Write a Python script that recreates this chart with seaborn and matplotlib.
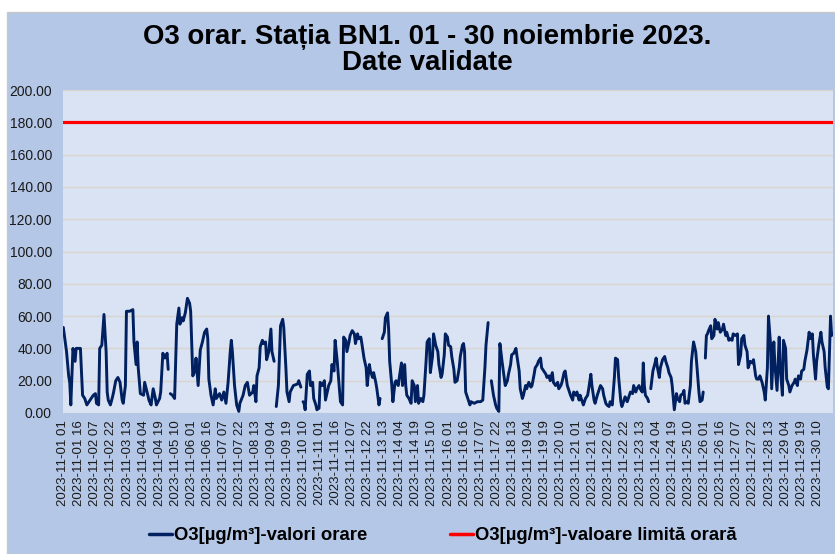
import numpy as np
import pandas as pd
import matplotlib
matplotlib.use('Agg')
import matplotlib.pyplot as plt
import seaborn as sns
from matplotlib.patches import Rectangle
from matplotlib.lines import Line2D

# hourly O3 readings, Nov 2023, station BN1 (hour 0 = 2023-11-01 01:00)
# nan marks a break in the measured series
nan = np.nan
start = pd.Timestamp('2023-11-01 01:00')
n_hours = 720
limit_value = 180

hours_1 = [0, 3, 5, 6, 7, 9, 11, 12, 16, 17,
           18, 20, 22, 25, 28, 30, 31, 33, 34, 36,
           38, 40, 41, 42, 44, 46, 47, 49, 51, 53,
           55, 56, 58, 59, 62, 65, 66, 68, 69, 70,
           72, 75, 76, 79, 80, 82, 84, 86, 87, 90,
           91, 93, 95, 97, 98, 99, 100, 102, 104, 106,
           108, 109, 111, 112, 114, 116, 118, 119, 121, 123,
           124, 126, 128, 130, 132, 134, 135, 136, 138, 140,
           142, 143, 146, 148, 150, 152, 154, 156, 157, 158,
           160, 162, 164, 165, 168, 170, 172, 174]
o3_1 = [53, 38, 23, 19, 5, 40, 32, 40, 40, 25,
        11, 9, 5, 8, 11, 12, 6, 5, 40, 42,
        61, 38, 13, 8, 5, 10, 13, 20, 22, 19,
        8, 6, 17, 63, 63, 64, 44, 30, 44, 28,
        12, 11, 19, 11, 8, 5, 15, 9, 5, 9,
        13, 37, 34, 37, 27, nan, 12, 11, 9, 55,
        65, 55, 59, 57, 62, 71, 68, 63, 23, 26,
        34, 17, 39, 44, 50, 52, 46, 21, 11, 5,
        15, 9, 12, 8, 13, 6, 19, 38, 45, 38,
        17, 5, 1, 6, 11, 17, 19, 11]

hours_2 = [177, 178, 180, 181, 183, 184, 186, 187, 189, 190,
           192, 194, 195, 197, 198, 199, 201, 203, 205, 206,
           208, 209, 211, 212, 215, 219, 220, 222, 223, 224,
           225, 226, 228, 230, 231, 233, 234, 236, 237, 239,
           240, 242, 244, 245, 247, 248, 250, 251, 253, 254,
           256, 258, 259, 261, 262, 264, 265, 267, 268, 270,
           272, 273, 275, 276, 278, 279, 281, 283, 284, 286,
           287, 289, 290, 292, 293, 295, 296, 297, 298, 300,
           301, 303, 304, 305, 307, 308, 310, 311, 313, 314,
           316, 317, 319, 320, 321, 323, 325, 326, 328, 329,
           331, 332, 334, 336, 337, 339, 340, 342, 343, 345,
           346, 348, 350, 351, 353, 354, 356, 357, 359]
o3_2 = [13, 17, 7, 23, 28, 41, 45, 43, 44, 33,
        38, 52, 38, 32, nan, 4, 17, 54, 58, 53,
        28, 13, 7, 13, 17, 18, 20, 16, nan, 7,
        6, 2, 24, 26, 17, 19, 9, 5, 2, 3,
        19, 17, 20, 8, 14, 17, 20, 30, 26, 45,
        32, 15, 7, 5, 47, 45, 38, 44, 48, 51,
        49, 43, 49, 46, 47, 43, 34, 28, 17, 30,
        26, 22, 25, 19, 15, 5, 9, nan, 46, 50,
        59, 62, 52, 32, 17, 7, 19, 20, 17, 22,
        31, 17, 30, 17, 11, 9, 6, 20, 17, 7,
        17, 6, 9, 7, 11, 32, 44, 46, 25, 35,
        49, 42, 38, 30, 22, 24, 36, 49, 47]

hours_3 = [360, 362, 363, 365, 366, 368, 370, 371, 373, 374,
           375, 376, 378, 380, 381, 384, 387, 390, 392, 394,
           395, 397, 398, 400, 402, 404, 405, 407, 408, 410,
           412, 413, 415, 416, 418, 419, 421, 423, 424, 426,
           427, 429, 430, 432, 433, 435, 437, 438, 440, 441,
           443, 444, 446, 447, 449, 451, 452, 454, 455, 457,
           458, 460, 462, 463, 465, 466, 468, 469, 471, 472,
           474, 476, 477, 479, 480, 482, 483, 485, 486, 488,
           490, 491, 493, 494, 496, 497, 499, 500, 502, 504,
           505, 507, 508, 510, 511, 513, 515, 516, 518, 519,
           521, 522, 524, 525, 527, 529, 530, 532, 533, 535,
           536]
o3_3 = [42, 41, 35, 27, 19, 20, 28, 35, 42, 43,
        38, 13, 9, 5, 7, 6, 7, 7, 8, 28,
        42, 56, nan, 20, 11, 5, 3, 1, 43, 32,
        22, 17, 20, 24, 30, 36, 37, 40, 35, 26,
        15, 9, 11, 17, 15, 19, 16, 17, 24, 28,
        30, 32, 34, 28, 26, 24, 22, 23, 20, 25,
        19, 17, 19, 15, 17, 19, 25, 26, 17, 15,
        11, 8, 13, 11, 13, 8, 11, 7, 5, 9,
        11, 15, 24, 17, 8, 6, 11, 13, 17, 15,
        11, 6, 5, 4, 7, 5, 22, 34, 33, 22,
        7, 4, 8, 10, 7, 11, 13, 12, 17, 13,
        15]

hours_4 = [538, 539, 541, 542, 543, 544, 546, 547, 548, 549,
           551, 553, 554, 555, 557, 558, 560, 562, 563, 565,
           566, 568, 569, 571, 573, 574, 576, 577, 579, 580,
           581, 583, 584, 586, 587, 589, 591, 592, 594, 595,
           597, 598, 599, 600, 601, 602, 603, 605, 606, 608,
           609, 611, 612, 614, 616, 617, 619, 620, 622, 623,
           625, 626, 628, 630, 631, 633, 634, 636, 637, 639,
           640, 642, 644, 645, 647, 648, 650, 651, 653, 655,
           656, 658, 659, 661, 662, 664, 665, 667, 669, 670,
           672, 673, 675, 676, 678, 679, 681, 683, 684, 686,
           687, 689, 690, 692, 693, 695, 697, 698, 700, 701,
           703, 704, 706, 708, 709, 711, 712, 714, 715, 717,
           718, 719]
o3_4 = [17, 15, 13, 31, 17, 11, 9, 7, nan, 15,
        26, 31, 34, 29, 22, 28, 33, 35, 32, 28,
        25, 22, 17, 2, 12, 9, 7, 11, 12, 14,
        6, 7, 6, 17, 32, 44, 38, 30, 13, 7,
        8, 13, nan, 34, 48, 49, 51, 54, 46, 48,
        58, 52, 56, 50, 52, 55, 48, 50, 45, 46,
        45, 49, 48, 49, 30, 36, 46, 48, 42, 38,
        28, 32, 31, 33, 23, 21, 21, 23, 19, 13,
        8, 28, 60, 42, 15, 44, 30, 14, 47, 28,
        11, 45, 40, 21, 17, 13, 17, 19, 21, 17,
        23, 21, 26, 27, 32, 39, 50, 46, 49, 36,
        21, 32, 42, 50, 44, 38, 28, 16, 15, 60,
        48, 49]

label_o3 = 'O3[µg/m³]-valori orare'
label_limit = 'O3[µg/m³]-valoare limită orară'
title = 'O3 orar. Stația BN1. 01 - 30 noiembrie 2023.\nDate validate'

df = pd.DataFrame({'hour': hours_1 + hours_2 + hours_3 + hours_4,
                   'o3': o3_1 + o3_2 + o3_3 + o3_4})
df['seg'] = df['o3'].isna().cumsum()
df = df.dropna()

limit_df = pd.DataFrame({'hour': np.arange(n_hours), 'limit': limit_value})

sns.set_theme(style='white')
plt.rcParams['font.family'] = ['Liberation Sans', 'DejaVu Sans']

fig = plt.figure(figsize=(8.35, 5.54), dpi=100, facecolor='white')
fig.patches.append(Rectangle((7 / 835, 0), 828 / 835, 542 / 554,
                             transform=fig.transFigure, facecolor='#B4C7E7',
                             edgecolor='#C8C8C8', lw=1, zorder=-1))
ax = fig.add_axes([63 / 835, 1 - 413 / 554, 770 / 835, 323 / 554])
ax.set_facecolor('#DAE3F3')

sns.lineplot(data=df, x='hour', y='o3', units='seg', estimator=None,
             color='#002060', lw=2.1, ax=ax)
sns.lineplot(data=limit_df, x='hour', y='limit', color='#FF0000', lw=2.3, ax=ax)

ax.set_xlim(-0.3, n_hours - 0.7)
ax.set_ylim(0, 200)
ax.set_yticks(np.arange(0, 201, 20))
ax.set_yticklabels([f'{v:.2f}' for v in np.arange(0, 201, 20)])
ticks = np.arange(0, n_hours, 15)
ax.set_xticks(ticks)
ax.set_xticklabels([(start + pd.Timedelta(hours=int(t))).strftime('%Y-%m-%d %H') for t in ticks],
                   rotation=90)
ax.tick_params(axis='y', length=0, pad=8, labelsize=10, labelcolor='#1a1a1a')
ax.tick_params(axis='x', length=0, pad=5, labelsize=9.5, labelcolor='#1a1a1a')
ax.set_xlabel('')
ax.set_ylabel('')
ax.yaxis.grid(True, color='#D9D5CC', lw=1)
ax.xaxis.grid(False)
for s in ax.spines.values():
    s.set_visible(False)

fig.text(0.512, 1 - 50 / 554, title, ha='center', va='center', color='black',
         fontsize=19.9, fontweight='bold', linespacing=0.95)

handles = [Line2D([], [], color='#002060', lw=2.5),
           Line2D([], [], color='#FF0000', lw=2.5)]
fig.legend(handles, [label_o3, label_limit], loc='center', bbox_to_anchor=(0.530, 0.033),
           ncol=2, frameon=False, handlelength=1.25, handletextpad=0.1,
           columnspacing=4.5, labelcolor='black',
           prop={'weight': 'bold', 'size': 13.3})

fig.savefig('out.png', dpi=100, facecolor=fig.get_facecolor())
